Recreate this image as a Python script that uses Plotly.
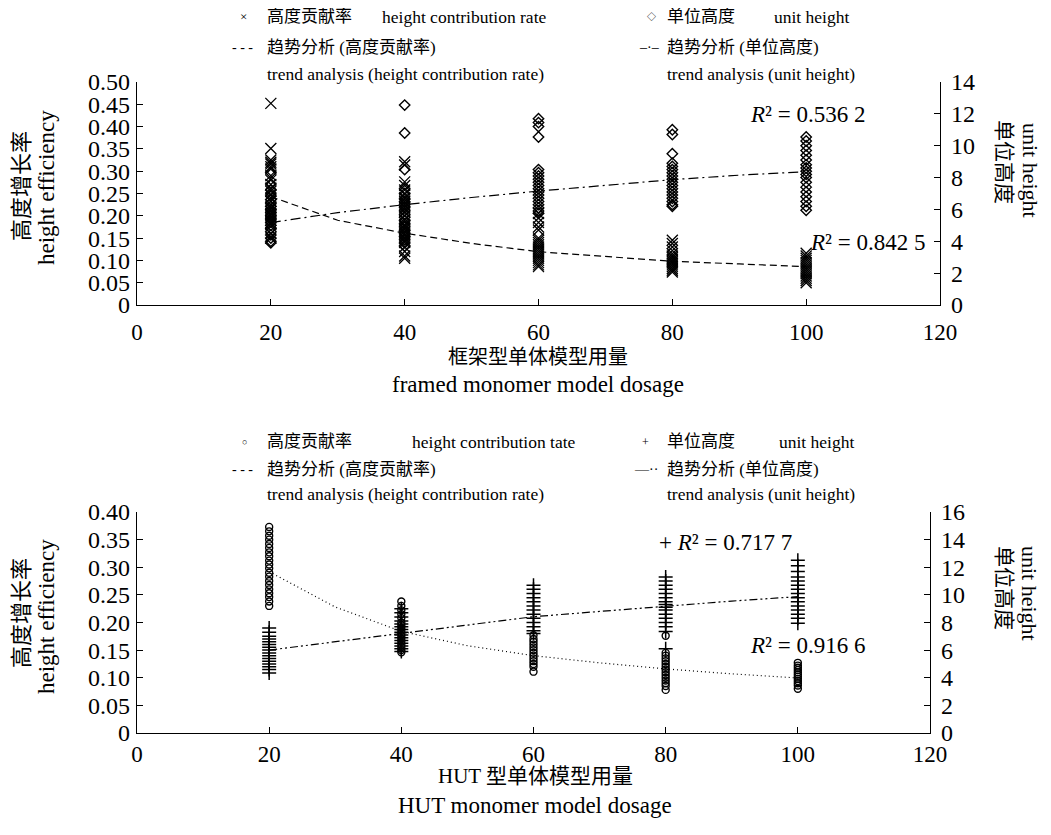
import plotly.graph_objects as go

# ---------------- data ----------------
x_ticks = [0, 20, 40, 60, 80, 100, 120]
trend_x = [20, 30, 40, 50, 60, 70, 80, 90, 100]

# Top panel: framed monomer model dosage
frame_rate_20 = [0.452, 0.351, 0.325, 0.32, 0.316, 0.31, 0.305, 0.29, 0.28, 0.27, 0.262, 0.255, 0.248, 0.24,
                 0.232, 0.225, 0.22, 0.215, 0.21, 0.205, 0.2, 0.195, 0.19, 0.185, 0.18, 0.16, 0.15]
frame_rate_40 = [0.321, 0.314, 0.276, 0.268, 0.258, 0.248, 0.24, 0.232, 0.225, 0.218, 0.21, 0.2, 0.19, 0.18,
                 0.175, 0.17, 0.165, 0.16, 0.155, 0.15, 0.145, 0.14, 0.13, 0.12, 0.11, 0.105]
frame_rate_60 = [0.205, 0.195, 0.185, 0.175, 0.168, 0.15, 0.145, 0.14, 0.135, 0.13, 0.125, 0.12, 0.115, 0.11,
                 0.105, 0.1, 0.095, 0.09, 0.086]
frame_rate_80 = [0.145, 0.138, 0.13, 0.122, 0.115, 0.11, 0.106, 0.102, 0.098, 0.094, 0.09, 0.086, 0.082,
                 0.078, 0.074]
frame_rate_100 = [0.116, 0.11, 0.105, 0.1, 0.095, 0.09, 0.085, 0.08, 0.075, 0.07, 0.065, 0.06, 0.055, 0.05]

frame_unit_20 = [8.3, 7.6, 7.2, 6.9, 6.6, 6.4, 6.2, 6.0, 5.8, 5.6, 5.4, 5.2, 5.0, 4.8, 4.6, 4.4, 4.2, 4.0, 3.9]
frame_unit_40 = [12.55, 10.8, 8.5, 7.3, 7.0, 6.7, 6.5, 6.3, 6.1, 5.9, 5.7, 5.5, 5.3, 5.1, 4.9, 4.7, 4.5, 4.3,
                 4.1, 3.9, 3.7]
frame_unit_60 = [11.7, 11.45, 11.2, 10.55, 8.5, 8.3, 8.1, 7.9, 7.7, 7.5, 7.3, 7.1, 6.9, 6.7, 6.5, 6.3, 6.1,
                 5.9, 5.75]
frame_unit_80 = [11.0, 10.7, 9.5, 8.9, 8.7, 8.5, 8.3, 8.1, 7.9, 7.7, 7.5, 7.3, 7.1, 6.9, 6.7, 6.5, 6.3, 6.2]
frame_unit_100 = [10.55, 10.3, 10.0, 9.7, 9.4, 9.1, 8.8, 8.6, 8.4, 8.2, 8.0, 7.7, 7.4, 7.1, 6.8, 6.5, 6.2, 5.95]

frame_rate_trend = [0.243, 0.19, 0.161, 0.138, 0.1195, 0.108, 0.098, 0.092, 0.086]
frame_unit_trend = [5.17, 5.8, 6.3, 6.75, 7.15, 7.5, 7.87, 8.15, 8.37]

# Bottom panel: HUT monomer model dosage
hut_rate_20 = [0.373, 0.365, 0.357, 0.35, 0.342, 0.335, 0.327, 0.32, 0.312, 0.305, 0.298, 0.29, 0.283, 0.275,
               0.268, 0.26, 0.253, 0.246, 0.238, 0.23]
hut_rate_40 = [0.238, 0.23, 0.222, 0.215, 0.208, 0.2, 0.195, 0.19, 0.185, 0.18, 0.175, 0.17, 0.165, 0.16,
               0.155, 0.15, 0.146]
hut_rate_60 = [0.177, 0.17, 0.165, 0.16, 0.155, 0.15, 0.145, 0.14, 0.135, 0.13, 0.125, 0.12, 0.111]
hut_rate_80 = [0.176, 0.145, 0.14, 0.135, 0.13, 0.125, 0.12, 0.115, 0.11, 0.105, 0.1, 0.095, 0.09, 0.085, 0.078]
hut_rate_100 = [0.127, 0.122, 0.118, 0.114, 0.11, 0.106, 0.102, 0.098, 0.094, 0.09, 0.086, 0.08]

hut_unit_20 = [7.6, 7.3, 7.0, 6.8, 6.6, 6.4, 6.2, 6.0, 5.8, 5.6, 5.4, 5.2, 5.0, 4.8, 4.6, 4.35]
hut_unit_40 = [9.0, 8.7, 8.4, 8.1, 7.9, 7.7, 7.5, 7.3, 7.1, 6.9, 6.7, 6.5, 6.3, 6.1, 5.9]
hut_unit_60 = [10.7, 10.4, 10.1, 9.8, 9.5, 9.2, 8.9, 8.6, 8.3, 8.0, 7.7, 7.4, 7.2]
hut_unit_80 = [11.3, 11.0, 10.7, 10.4, 10.1, 9.8, 9.5, 9.3, 9.1, 8.9, 8.6, 8.3, 8.0, 7.7, 7.35, 6.1]
hut_unit_100 = [12.5, 12.1, 11.7, 11.3, 11.0, 10.7, 10.4, 10.1, 9.8, 9.5, 9.2, 8.9, 8.6, 8.3, 7.95]

hut_rate_trend = [0.292, 0.228, 0.184, 0.158, 0.14, 0.127, 0.116, 0.107, 0.0995]
hut_unit_trend = [6.0, 6.6, 7.22, 7.85, 8.42, 8.8, 9.2, 9.55, 9.87]

frame_r2 = ["0.536 2", "0.842 5"]
hut_r2 = ["0.717 7", "0.916 6"]

left_top_ticks = [0, 0.05, 0.10, 0.15, 0.20, 0.25, 0.30, 0.35, 0.40, 0.45, 0.50]
left_bot_ticks = [0, 0.05, 0.10, 0.15, 0.20, 0.25, 0.30, 0.35, 0.40]
right_top_ticks = [0, 2, 4, 6, 8, 10, 12, 14]
right_bot_ticks = [0, 2, 4, 6, 8, 10, 12, 14, 16]

# ---------------- figure ----------------
# The page body has an 8px margin, so the figure is 8px smaller and every
# position below is given in window pixels and shifted by that margin.
OFF = 8
W, H = 1051 - OFF, 835 - OFF
FONT = "Liberation Serif, Noto Sans CJK SC, serif"
BLACK = "#000000"


def px(x):
    return (x - OFF) / W


def py(y):
    return 1 - (y - OFF) / H


def stack(groups):
    xs, ys = [], []
    for d, vals in groups:
        xs += [d] * len(vals)
        ys += vals
    return xs, ys


def fmt(v):
    return "0" if v == 0 else f"{v:.2f}"


fig = go.Figure()

# top panel
xs, ys = stack([(20, frame_rate_20), (40, frame_rate_40), (60, frame_rate_60), (80, frame_rate_80),
                (100, frame_rate_100)])
fig.add_trace(go.Scatter(x=xs, y=ys, mode="markers", xaxis="x", yaxis="y",
                         marker=dict(symbol="x-thin-open", size=11, color=BLACK,
                                     line=dict(color=BLACK, width=1.3))))
xs, ys = stack([(20, frame_unit_20), (40, frame_unit_40), (60, frame_unit_60), (80, frame_unit_80),
                (100, frame_unit_100)])
fig.add_trace(go.Scatter(x=xs, y=ys, mode="markers", xaxis="x", yaxis="y2",
                         marker=dict(symbol="diamond-open", size=8, color=BLACK,
                                     line=dict(color=BLACK, width=1.4))))
fig.add_trace(go.Scatter(x=trend_x, y=frame_rate_trend, mode="lines", xaxis="x", yaxis="y",
                         line=dict(color=BLACK, width=1.2, dash="7px,4px")))
fig.add_trace(go.Scatter(x=trend_x, y=frame_unit_trend, mode="lines", xaxis="x", yaxis="y2",
                         line=dict(color=BLACK, width=1.2, dash="10px,4px,2px,4px")))

# bottom panel
xs, ys = stack([(20, hut_rate_20), (40, hut_rate_40), (60, hut_rate_60), (80, hut_rate_80),
                (100, hut_rate_100)])
fig.add_trace(go.Scatter(x=xs, y=ys, mode="markers", xaxis="x2", yaxis="y3",
                         marker=dict(symbol="circle-open", size=7, color=BLACK,
                                     line=dict(color=BLACK, width=1.4))))
xs, ys = stack([(20, hut_unit_20), (40, hut_unit_40), (60, hut_unit_60), (80, hut_unit_80),
                (100, hut_unit_100)])
fig.add_trace(go.Scatter(x=xs, y=ys, mode="markers", xaxis="x2", yaxis="y4",
                         marker=dict(symbol="cross-thin-open", size=10, color=BLACK,
                                     line=dict(color=BLACK, width=1.5))))
fig.add_trace(go.Scatter(x=trend_x, y=hut_rate_trend, mode="lines", xaxis="x2", yaxis="y3",
                         line=dict(color=BLACK, width=1.2, dash="1px,3px")))
fig.add_trace(go.Scatter(x=trend_x, y=hut_unit_trend, mode="lines", xaxis="x2", yaxis="y4",
                         line=dict(color=BLACK, width=1.2, dash="8px,3px,2px,3px,2px,3px")))

xtickfont = dict(family=FONT, size=23, color=BLACK)
ytickfont = dict(family=FONT, size=24, color=BLACK)
axis_common = dict(showline=True, linecolor=BLACK, linewidth=1.3, ticks="inside", ticklen=6,
                   tickcolor=BLACK, tickwidth=1.2, showgrid=False, zeroline=False,
                   automargin=False, fixedrange=True)

top_dom = [py(305), py(82)]
bot_dom = [py(733), py(512)]

fig.update_layout(
    width=W, height=H,
    margin=dict(l=0, r=0, t=0, b=0),
    paper_bgcolor="white", plot_bgcolor="white",
    showlegend=False,
    font=dict(family=FONT, color=BLACK),
    xaxis=dict(domain=[px(137), px(940)], anchor="y", range=[0, 120], tickvals=x_ticks,
               ticklabelstandoff=6, tickfont=xtickfont, **axis_common),
    yaxis=dict(domain=top_dom, anchor="x", range=[0, 0.5], tickvals=left_top_ticks,
               ticktext=[fmt(v) for v in left_top_ticks], ticklabelstandoff=1, tickfont=ytickfont,
               **axis_common),
    yaxis2=dict(overlaying="y", side="right", anchor="x", range=[0, 14], tickvals=right_top_ticks,
                ticklabelstandoff=5, tickfont=ytickfont, **axis_common),
    xaxis2=dict(domain=[px(137), px(930)], anchor="y3", range=[0, 120], tickvals=x_ticks,
                ticklabelstandoff=0, tickfont=xtickfont, **axis_common),
    yaxis3=dict(domain=bot_dom, anchor="x2", range=[0, 0.4], tickvals=left_bot_ticks,
                ticktext=[fmt(v) for v in left_bot_ticks], ticklabelstandoff=1, tickfont=ytickfont,
                **axis_common),
    yaxis4=dict(overlaying="y3", side="right", anchor="x2", range=[0, 16], tickvals=right_bot_ticks,
                ticklabelstandoff=5, tickfont=ytickfont, **axis_common),
)

ann = []


def text(x, y, s, size=17, xanchor="left", angle=0):
    ann.append(dict(x=px(x), y=py(y), xref="paper", yref="paper", text=s, showarrow=False,
                    xanchor=xanchor, yanchor="middle", textangle=angle,
                    font=dict(family=FONT, size=size, color=BLACK)))


# top legend
text(243, 17, "×", size=13, xanchor="center")
text(265, 17, "高度贡献率", size=17)
text(548, 17, "height contribution rate", size=17.5, xanchor="right")
text(651, 17, "◇", size=9, xanchor="center")
text(665, 17, "单位高度", size=17)
text(851, 17, "unit height", size=17.5, xanchor="right")
text(242, 47, "- - -", size=14, xanchor="center")
text(265, 47, "趋势分析 (高度贡献率)", size=17)
text(265, 74, "trend analysis (height contribution rate)", size=17.5)
text(649, 47, "–·–", size=14, xanchor="center")
text(665, 47, "趋势分析 (单位高度)", size=17)
text(665, 74, "trend analysis (unit height)", size=17.5)

# bottom legend
text(244, 442, "○", size=9, xanchor="center")
text(265, 442, "高度贡献率", size=17)
text(578, 442, "height contribution tate", size=17.5, xanchor="right")
text(645, 442, "+", size=12, xanchor="center")
text(665, 442, "单位高度", size=17)
text(856, 442, "unit height", size=17.5, xanchor="right")
text(242, 469, "- - -", size=14, xanchor="center")
text(265, 469, "趋势分析 (高度贡献率)", size=17)
text(265, 494, "trend analysis (height contribution rate)", size=17.5)
text(646, 469, "—··", size=14, xanchor="center")
text(665, 469, "趋势分析 (单位高度)", size=17)
text(665, 494, "trend analysis (unit height)", size=17.5)

# R² labels
text(748, 114, "<i>R</i>² = " + frame_r2[0], size=23)
text(808, 242, "<i>R</i>² = " + frame_r2[1], size=23)
text(657, 542, "+ <i>R</i>² = " + hut_r2[0], size=23)
text(748, 645, "<i>R</i>² = " + hut_r2[1], size=23)

# axis titles
text(538, 357, "框架型单体模型用量", size=20, xanchor="center")
text(538, 384, "framed monomer model dosage", size=23, xanchor="center")
text(535, 776, "HUT 型单体模型用量", size=21, xanchor="center")
text(535, 805, "HUT monomer model dosage", size=23, xanchor="center")

text(21, 186, "高度增长率", size=22, xanchor="center", angle=-90)
text(46, 188, "height efficiency", size=23, xanchor="center", angle=-90)
text(21, 613, "高度增长率", size=22, xanchor="center", angle=-90)
text(46, 617, "height efficiency", size=23, xanchor="center", angle=-90)

text(1004, 162, "单位高度", size=21, xanchor="center", angle=90)
text(1030, 170, "unit height", size=22, xanchor="center", angle=90)
text(1004, 588, "单位高度", size=21, xanchor="center", angle=90)
text(1030, 593, "unit height", size=22, xanchor="center", angle=90)

fig.update_layout(annotations=ann)

fig.write_html("out.html")
